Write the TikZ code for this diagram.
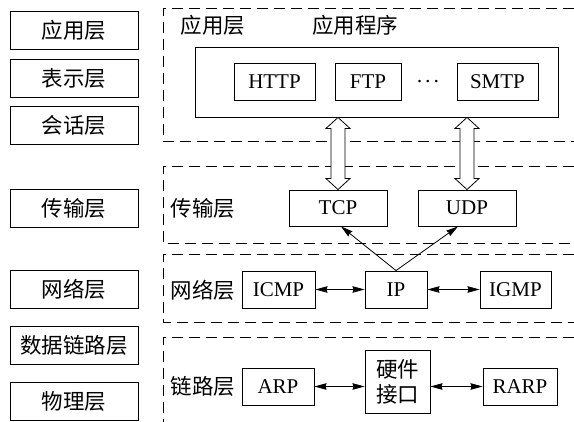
\documentclass[tikz,border=0pt]{standalone}
\usepackage{fontspec}
\setmainfont{Liberation Serif}
\newfontfamily\cjk{Noto Sans CJK SC}
\usetikzlibrary{arrows.meta,calc}
\begin{document}
\begin{tikzpicture}[x=1pt,y=-1pt,
  txt/.style={font=\fontsize{21}{24}\selectfont, inner sep=0pt},
  cjktxt/.style={inner sep=0pt, font=\cjk\fontsize{21.5}{25}\selectfont},
  box/.style={txt, draw, line width=0.9pt},
  layerbox/.style={box, minimum width=128pt, minimum height=38pt, font=\cjk\fontsize{21.5}{25}\selectfont},
  region/.style={line width=0.9pt, dash pattern=on 11pt off 6pt},
  biarrow/.style={line width=0.8pt, {Stealth[length=12pt,width=6.5pt,inset=1pt]}-{Stealth[length=12pt,width=6.5pt,inset=1pt]}},
  uparrow/.style={line width=0.8pt, -{Stealth[length=12pt,width=6.5pt,inset=1pt]}},
  dblarrow/.style={line width=0.8pt, fill=white}
]
\useasboundingbox (0,0) rectangle (574,422);
% OSI layers
\node[layerbox] (osi1) at (74,30) {应用层};
\node[layerbox] (osi2) at (74,78) {表示层};
\node[layerbox] (osi3) at (74,125.5) {会话层};
\node[layerbox] (osi4) at (74,208.5) {传输层};
\node[layerbox] (osi5) at (74,289.5) {网络层};
\node[layerbox] (osi6) at (74,345.5) {数据链路层};
\node[layerbox] (osi7) at (74,401.5) {物理层};
% dashed regions
\draw[region] (574,8) -- (163,8) -- (163,141) -- (574,141);
\draw[region] (574,166) -- (163,166) -- (163,243) -- (574,243);
\draw[region] (574,254) -- (163,254) -- (163,322) -- (574,322);
\draw[region] (574,337) -- (163,337) -- (163,422);
% region labels
\node[cjktxt] (lapp) at (213,25) {应用层};
\node[cjktxt] (lprog) at (355,25) {应用程序};
\node[cjktxt] (ltrans) at (203,208) {传输层};
\node[cjktxt] (lnet) at (203,290) {网络层};
\node[cjktxt] (llink) at (203,386) {链路层};
% application box
\node[box, minimum width=363pt, minimum height=70pt] (app) at (376.5,82) {};
\node[box, minimum width=81pt, minimum height=37pt] (http) at (274.5,81.5) {HTTP};
\node[box, minimum width=66pt, minimum height=37pt] (ftp) at (368,81.5) {FTP};
\node[txt] (dots) at (428,84) {·\kern1.5pt·\kern1.5pt·};
\node[box, minimum width=81pt, minimum height=37pt] (smtp) at (497.5,81.5) {SMTP};
% transport
\node[box, minimum width=98pt, minimum height=36pt] (tcp) at (338,208) {TCP};
\node[box, minimum width=98pt, minimum height=36pt] (udp) at (467,208) {UDP};
% network
\node[box, minimum width=73pt, minimum height=37pt] (icmp) at (278.5,289.5) {ICMP};
\node[box, minimum width=62pt, minimum height=37pt] (ip) at (396,289.5) {IP};
\node[box, minimum width=71pt, minimum height=37pt] (igmp) at (515.5,289.5) {IGMP};
% link
\node[box, minimum width=72pt, minimum height=37pt] (arp) at (278,386.5) {ARP};
\node[box, minimum width=65pt, minimum height=63pt, align=center, font=\cjk\fontsize{21.5}{25}\selectfont] (hw) at (397.5,381.5) {硬件\\接口};
\node[box, minimum width=74pt, minimum height=37pt] (rarp) at (520,386.5) {RARP};
% double arrows app <-> tcp/udp
\foreach \n in {tcp,udp}{
  \coordinate (T) at (\n.north |- app.south);
  \coordinate (B) at (\n.north);
  \draw[dblarrow] (T) -- ($(T)+(12,11)$) -- ($(T)+(7,11)$) -- ($(B)+(7,-11)$) -- ($(B)+(12,-11)$) -- (B)
     -- ($(B)+(-12,-11)$) -- ($(B)+(-7,-11)$) -- ($(T)+(-7,11)$) -- ($(T)+(-12,11)$) -- cycle;
}
% IP -> TCP, UDP
\draw[uparrow] (ip.north) -- ($(tcp.south)+(3,0)$);
\draw[uparrow] (ip.north) -- ($(udp.south)+(-9,0)$);
% horizontal arrows
\draw[biarrow] (icmp.east) -- (ip.west);
\draw[biarrow] (ip.east) -- (igmp.west);
\draw[biarrow] (arp.east) -- (arp.east -| hw.west);
\draw[biarrow] (rarp.west -| hw.east) -- (rarp.west);
\end{tikzpicture}
\end{document}
